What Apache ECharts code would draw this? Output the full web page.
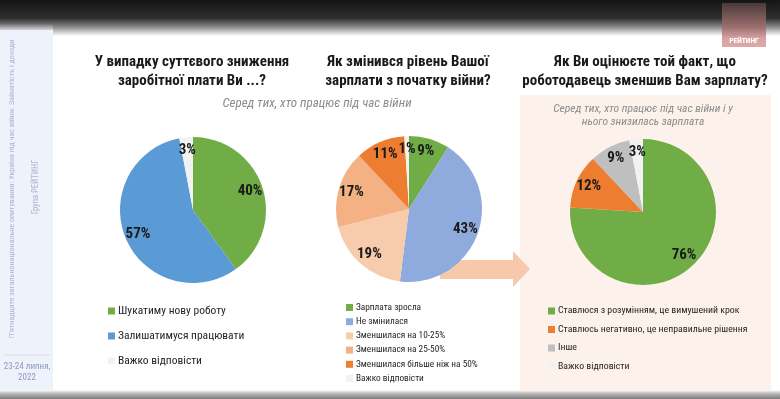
<!DOCTYPE html>
<html><head><meta charset="utf-8">
<script src="https://cdn.jsdelivr.net/npm/echarts@6/dist/echarts.min.js"></script>
<style>html,body{margin:0;padding:0;background:#fff}#c{width:780px;height:399px}</style>
</head><body><div id="c"></div>
<script>
// ---- data ----
const chartTitles = [
  'У випадку суттєвого зниження\nзаробітної плати Ви ...?',
  'Як змінився рівень Вашої\nзарплати з початку війни?',
  'Як Ви оцінюєте той факт, що\nроботодавець зменшив Вам зарплату?'
];
const subtitleLeft = 'Серед тих, хто працює під час війни';
const subtitleRight = 'Серед тих, хто працює під час війни і у\nнього знизилась зарплата';

const pie1Names = ['Шукатиму нову роботу', 'Залишатимуся працювати', 'Важко відповісти'];
const pie1Values = [40, 57, 3];

const pie2Names = ['Зарплата зросла', 'Не змінилася', 'Зменшилася на 10-25%', 'Зменшилася на 25-50%', 'Зменшилася більше ніж на 50%', 'Важко відповісти'];
const pie2Values = [9, 43, 19, 17, 11, 1];

const pie3Names = ['Ставлюся з розумінням, це вимушений крок', 'Ставлюсь негативно, це неправильне рішення', 'Інше', 'Важко відповісти'];
const pie3Values = [76, 12, 9, 3];

const sideText = "П'ятнадцяте загальнонаціональне опитування: Україна під час війни. Зайнятість і доходи";
const sideText2 = 'Група РЕЙТИНГ';
const dateText = '23-24 липня,\n2022';
const logoText = 'РЕЙТИНГ';

// ---- styles ----
const pie1Colors = ['#70AD47', '#5B9BD5', '#F2F2F2'];
const pie2Colors = ['#70AD47', '#8FAADC', '#F8CBAD', '#F4B183', '#ED7D31', '#F2F2F2'];
const pie3Colors = ['#70AD47', '#ED7D31', '#BFBFBF', '#F2F2F2'];
const NARROW = "'Liberation Sans Narrow','Arial Narrow','Roboto Condensed','DejaVu Sans Condensed',sans-serif";
const R = 73;

function pieSeries(names, values, colors, center) {
  return [
    {
      type: 'pie', center: center, radius: [0, R], startAngle: 90, clockwise: true,
      avoidLabelOverlap: false, animation: false, z: 3,
      data: names.map((n, i) => ({ name: n, value: values[i], itemStyle: { color: colors[i] } })),
      label: { show: false }, labelLine: { show: false },
      emphasis: { scale: false }
    },
    {
      type: 'pie', center: center, radius: [R * 0.56, R], startAngle: 90, clockwise: true,
      avoidLabelOverlap: false, animation: false, silent: true, z: 4,
      data: names.map((n, i) => ({ name: n, value: values[i] })),
      itemStyle: { color: 'rgba(0,0,0,0)' },
      label: {
        show: true, position: 'inside', formatter: '{c}%',
        fontFamily: NARROW, fontWeight: 'bold', fontSize: 15, color: '#1a1a1a'
      },
      labelLine: { show: false }
    }
  ];
}

function legend(names, colors, left, top, fontSize, gap) {
  return {
    orient: 'vertical', left: left, top: top, padding: 0,
    itemWidth: 7, itemHeight: 7, itemGap: gap, icon: 'rect',
    selectedMode: false,
    textStyle: { fontFamily: NARROW, fontSize: fontSize, color: '#262626', padding: [0, 0, 0, -2] },
    data: names.map((n, i) => ({ name: n, itemStyle: { color: colors[i] } }))
  };
}

const titleStyle = { fontFamily: NARROW, fontWeight: 'bold', fontSize: 15, lineHeight: 19, color: '#1a1a1a', align: 'center' };

const chart = echarts.init(document.getElementById('c'), null, { renderer: 'canvas' });
chart.setOption({
  backgroundColor: '#ffffff',
  animation: false,
  title: [
    { text: chartTitles[0], left: 192, top: 53, textAlign: 'center', padding: 0, textStyle: titleStyle },
    { text: chartTitles[1], left: 408, top: 53, textAlign: 'center', padding: 0, textStyle: titleStyle },
    { text: chartTitles[2], left: 645, top: 53, textAlign: 'center', padding: 0, textStyle: titleStyle },
    { text: subtitleLeft, left: 317, top: 97, textAlign: 'center', padding: 0,
      textStyle: { fontFamily: NARROW, fontStyle: 'italic', fontWeight: 'normal', fontSize: 13, color: '#8c8c8c' } },
    { text: subtitleRight, left: 643, top: 102, textAlign: 'center', padding: 0,
      textStyle: { fontFamily: NARROW, fontStyle: 'italic', fontWeight: 'normal', fontSize: 11.5, lineHeight: 13.5, color: '#8c8c8c', align: 'center' } }
  ],
  legend: [
    legend(pie1Names, pie1Colors, 108, 305, 11.5, 13),
    legend(pie2Names, pie2Colors, 346, 303, 9.3, 5.2),
    legend(pie3Names, pie3Colors, 548, 306, 9.8, 8.5)
  ],
  graphic: [
    // top dark band
    { type: 'rect', z: 0, shape: { x: 0, y: 0, width: 780, height: 36 },
      style: { fill: new echarts.graphic.LinearGradient(0, 0, 0, 1, [
        { offset: 0, color: '#151515' }, { offset: 0.5, color: '#2e2e2e' },
        { offset: 0.75, color: '#8a8a8a' }, { offset: 1, color: '#ffffff' }]) } },
    // left sidebar
    { type: 'rect', z: 0, shape: { x: 0, y: 30, width: 53, height: 363 }, style: { fill: '#EEF2FA' } },
    { type: 'rect', z: 0, shape: { x: 0, y: 24, width: 53, height: 12 },
      style: { fill: new echarts.graphic.LinearGradient(0, 0, 0, 1, [
        { offset: 0, color: 'rgba(238,242,250,0)' }, { offset: 1, color: '#EEF2FA' }]) } },
    { type: 'line', z: 1, shape: { x1: 4, y1: 355, x2: 50, y2: 355 }, style: { stroke: '#d6dcec', lineWidth: 1 } },
    { type: 'text', z: 1, x: 12, y: 189, rotation: Math.PI / 2,
      style: { text: sideText, fill: '#a9b5d3', font: '8px ' + NARROW, align: 'center', verticalAlign: 'middle' } },
    { type: 'text', z: 1, x: 36, y: 187, rotation: Math.PI / 2,
      style: { text: sideText2, fill: '#a9b5d3', font: '8.5px ' + NARROW, align: 'center', verticalAlign: 'middle' } },
    { type: 'text', z: 1, x: 27, y: 372,
      style: { text: dateText, fill: '#8d9bc0', font: '9px ' + NARROW, align: 'center', verticalAlign: 'middle', lineHeight: 11 } },
    // bottom band
    { type: 'rect', z: 0, shape: { x: 0, y: 390, width: 780, height: 9 },
      style: { fill: new echarts.graphic.LinearGradient(0, 0, 0, 1, [
        { offset: 0, color: '#ffffff' }, { offset: 0.4, color: '#b8b8b8' }, { offset: 1, color: '#7a7a7a' }]) } },
    // right peach box
    { type: 'rect', z: 0, shape: { x: 520, y: 95, width: 251, height: 296 }, style: { fill: '#FCF1EB' } },
    // arrow
    { type: 'polygon', z: 1,
      shape: { points: [[440, 260], [513, 260], [513, 251], [530, 269], [513, 287], [513, 279], [440, 279]] },
      style: { fill: '#F6C9AB' } },
    // logo
    { type: 'rect', z: 2, shape: { x: 722, y: 3, width: 44, height: 44 },
      style: { fill: new echarts.graphic.LinearGradient(0, 0, 0, 1, [
        { offset: 0, color: '#4a3a3a' }, { offset: 0.55, color: '#9c6e6e' }, { offset: 0.8, color: '#d8a2a2' }, { offset: 1, color: '#dca8a8' }]) } },
    { type: 'text', z: 3, x: 744, y: 41,
      style: { text: logoText, fill: '#ffffff', font: 'bold 7.5px ' + NARROW, align: 'center', verticalAlign: 'middle' } }
  ],
  series: [].concat(
    pieSeries(pie1Names, pie1Values, pie1Colors, [193, 210]),
    pieSeries(pie2Names, pie2Values, pie2Colors, [409, 209]),
    pieSeries(pie3Names, pie3Values, pie3Colors, [643, 212])
  )
});
</script>
</body></html>
